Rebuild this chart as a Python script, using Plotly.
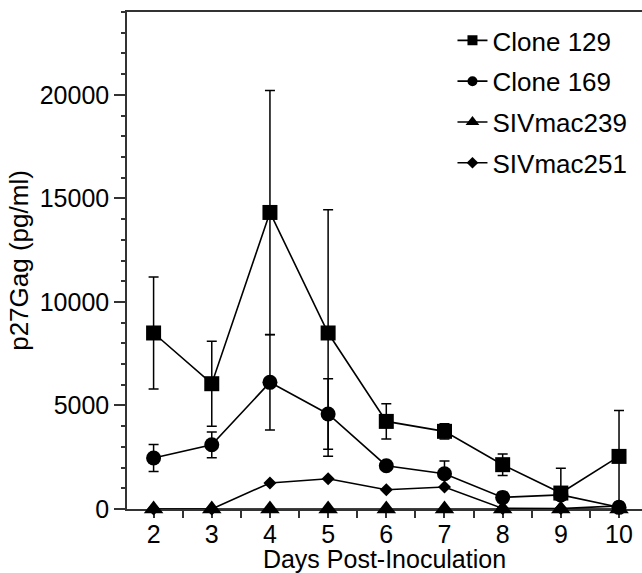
import plotly.graph_objects as go

days = [2, 3, 4, 5, 6, 7, 8, 9, 10]
clone129 = [8500, 6050, 14320, 8500, 4230, 3750, 2140, 770, 2540]
clone129_err = [2700, 2050, 5890, 5950, 850, 370, 520, 1200, 2220]
clone169 = [2460, 3100, 6115, 4590, 2090, 1700, 560, 680, 80]
clone169_err = [650, 620, 2300, 1700, 120, 620, 250, 150, 60]
sivmac239 = [0, 0, 0, 0, 0, 0, 0, 0, 0]
sivmac251 = [0, 0, 1255, 1460, 930, 1060, 30, 20, 150]
y_ticks = [0, 5000, 10000, 15000, 20000]
y_ticklabels = ["0", "5000", "10000", "15000", "20000"]

series = [
    ("SIVmac239", sivmac239, None, "triangle-up", 17),
    ("SIVmac251", sivmac251, None, "diamond", 10),
    ("Clone 169", clone169, clone169_err, "circle", 15),
    ("Clone 129", clone129, clone129_err, "square", 15),
]
legend_order = [("Clone 129", "square", 10), ("Clone 169", "circle", 10),
                ("SIVmac239", "triangle-up", 12), ("SIVmac251", "diamond", 9)]

fig = go.Figure()
for name, vals, err, sym, sz in series:
    kw = {}
    if err is not None:
        kw["error_y"] = dict(type="data", array=err, visible=True,
                             color="black", thickness=1.5, width=5)
    fig.add_trace(go.Scatter(
        x=days, y=vals, mode="lines+markers", name=name, showlegend=False,
        line=dict(color="black", width=1.6),
        marker=dict(symbol=sym, size=sz, color="black"),
        cliponaxis=False, **kw))

for i, (name, sym, sz) in enumerate(legend_order):
    fig.add_trace(go.Scatter(
        x=[None], y=[None], mode="lines+markers", name=name,
        legendgroup=f"g{i}", legendrank=i + 1,
        line=dict(color="black", width=1.6),
        marker=dict(symbol=sym, size=sz, color="black")))

fig.update_layout(
    width=642, height=573,
    margin=dict(l=127, r=0, t=12, b=64),
    plot_bgcolor="white", paper_bgcolor="white",
    font=dict(family="Liberation Sans, Arial, sans-serif", color="black", size=25),
    legend=dict(x=0.632, y=0.99, xanchor="left", yanchor="top",
                font=dict(size=26), bgcolor="rgba(0,0,0,0)",
                traceorder="grouped", tracegroupgap=4, itemwidth=30),
    xaxis=dict(range=[1.543, 10.395], tickmode="array", tickvals=days,
               ticks="", ticklabelstandoff=2, layer="below traces",
               minor=dict(dtick=0.5, tick0=1.5, ticks="outside", ticklen=7,
                          tickwidth=1.5, tickcolor="#333", showgrid=False),
               showline=True, linewidth=1.5, linecolor="#333", mirror=True,
               showgrid=False, zeroline=False,
               tickfont=dict(size=25),
               title=dict(text="Days Post-Inoculation", font=dict(size=25),
                          standoff=0)),
    yaxis=dict(range=[0, 24000], tickmode="array", tickvals=y_ticks,
               ticktext=y_ticklabels, layer="below traces",
               ticks="outside", ticklen=11, tickwidth=1.5, tickcolor="#333",
               minor=dict(dtick=1000, ticks="outside", ticklen=4,
                          tickwidth=1.5, tickcolor="#333", showgrid=False),
               showline=True, linewidth=1.5, linecolor="#333",
               showgrid=False, zeroline=False,
               tickfont=dict(size=25),
               title=dict(text="p27Gag (pg/ml)", font=dict(size=26),
                          standoff=4)),
)

fig.write_html("out.html")
